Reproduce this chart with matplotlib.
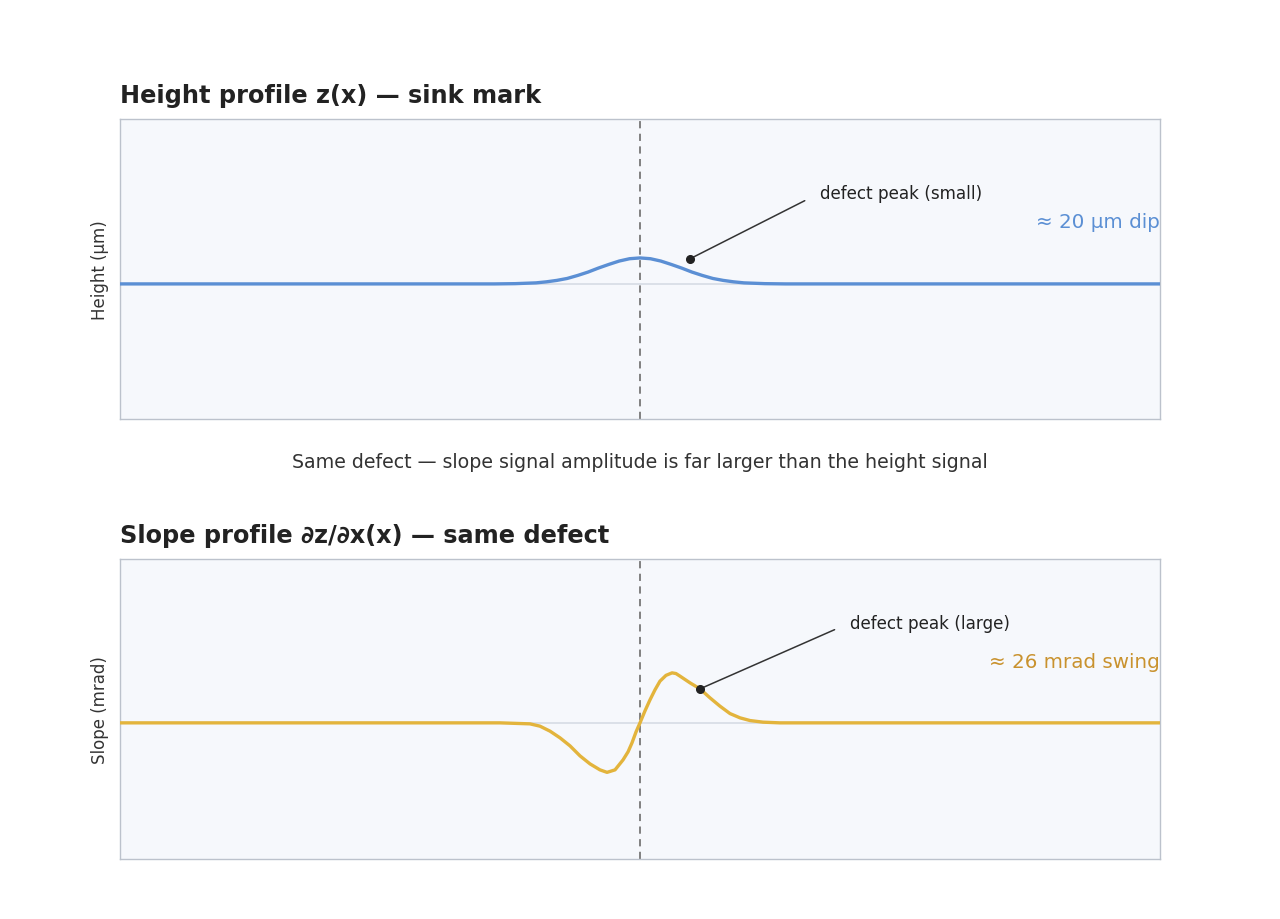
import matplotlib.pyplot as plt

# Position along the part (mm); axis spans 0..100, defect centred at 50
x_height = [0, 36, 37, 38, 39, 40, 41, 42, 43, 44, 45, 46, 47, 48, 49, 50,
            51, 52, 53, 54, 55, 56, 57, 58, 59, 60, 61, 62, 63, 64, 100]

# Height profile (um)
height_um = [0, 0.0, 0.1, 0.2, 0.5, 0.8, 1.6, 2.7, 4.2, 6.5, 9.1, 12.2, 15.0, 17.6, 19.4, 20.0,
             19.4, 17.6, 15.0, 12.2, 9.1, 6.5, 4.2, 2.7, 1.6, 0.8, 0.5, 0.2, 0.1, 0.0, 0]

# Slope profile (mrad)
x_slope = [0, 36.54, 39.42, 40.38, 41.35, 42.31, 43.27, 44.23, 45.19, 46.15, 46.83, 47.60,
           48.37, 48.85, 49.23, 49.62, 50.0, 50.48, 50.96, 51.44, 51.92, 52.50, 53.08,
           53.46, 53.85, 54.81, 55.77, 56.73, 57.69, 58.65, 59.62, 60.58, 61.83, 63.46, 100]
slope_mrad = [0, 0.0, -0.26, -0.86, -2.16, -3.90, -5.98, -8.58, -10.66, -12.22, -12.87, -12.22,
              -9.62, -7.54, -5.20, -2.34, 0.0, 3.12, 5.98, 8.58, 10.84, 12.35, 13.0,
              12.82, 12.14, 10.40, 8.84, 6.50, 4.34, 2.42, 1.30, 0.60, 0.18, 0.0, 0]

defect_x = 50
height_peak_mark = (54.8, 19.3)
height_text_pos = (67.3, 70)
slope_peak_mark = (55.77, 8.84)
slope_text_pos = (70.2, 26)

blue = '#5b8fd4'
gold = '#e3b43c'
gold_text = '#c9922e'
face = '#f6f8fc'
spine_col = '#bcc2cc'

fig = plt.figure(figsize=(12.8, 9.2), dpi=100)
ax1 = fig.add_axes([0.09375, 0.5435, 0.8125, 0.3261])
ax2 = fig.add_axes([0.09375, 0.0652, 0.8125, 0.3261])


def style(ax):
    ax.set_facecolor(face)
    for s in ax.spines.values():
        s.set_color(spine_col)
        s.set_linewidth(1.0)
    ax.set_xticks([])
    ax.set_yticks([])
    ax.set_xlim(0, 100)
    ax.axhline(0, color='#d6dce4', lw=1.2, zorder=1)
    ax.axvline(defect_x, color='#777777', lw=1.3, ls=(0, (4, 3)), zorder=2)


# Top panel: height
style(ax1)
ax1.set_ylim(-104, 127)
ax1.plot(x_height, height_um, color=blue, lw=2.4, zorder=3)
ax1.set_title('Height profile z(x) — sink mark', loc='left', fontsize=17.3,
              fontweight='bold', color='#222222', pad=12)
ax1.set_ylabel('Height (µm)', fontsize=12, color='#333333', labelpad=8)
ax1.annotate('defect peak (small)', xy=height_peak_mark, xytext=height_text_pos,
             fontsize=12.1, color='#222222', va='center', ha='left',
             arrowprops=dict(arrowstyle='-', color='#333333', lw=1.1,
                             shrinkA=10, shrinkB=0, relpos=(0, 0.5)))
ax1.plot(*height_peak_mark, 'o', color='#222222', ms=5.5, zorder=4)
ax1.text(1.0, 0.657, '≈ 20 µm dip', transform=ax1.transAxes, ha='right',
         va='center', fontsize=14.3, color=blue)

# Bottom panel: slope
style(ax2)
ax2.set_ylim(-35.4, 42.6)
ax2.plot(x_slope, slope_mrad, color=gold, lw=2.4, zorder=3)
ax2.set_title('Slope profile ∂z/∂x(x) — same defect', loc='left', fontsize=17.3,
              fontweight='bold', color='#222222', pad=12)
ax2.set_ylabel('Slope (mrad)', fontsize=12, color='#333333', labelpad=8)
ax2.annotate('defect peak (large)', xy=slope_peak_mark, xytext=slope_text_pos,
             fontsize=12.1, color='#222222', va='center', ha='left',
             arrowprops=dict(arrowstyle='-', color='#333333', lw=1.1,
                             shrinkA=10, shrinkB=0, relpos=(0, 0.5)))
ax2.plot(*slope_peak_mark, 'o', color='#222222', ms=5.5, zorder=4)
ax2.text(1.0, 0.657, '≈ 26 mrad swing', transform=ax2.transAxes, ha='right',
         va='center', fontsize=14.3, color=gold_text)

fig.text(0.5, 0.497, 'Same defect — slope signal amplitude is far larger than the height signal',
         ha='center', va='center', fontsize=13.7, color='#333333')

fig.savefig('out.png', dpi=100, facecolor='white')
